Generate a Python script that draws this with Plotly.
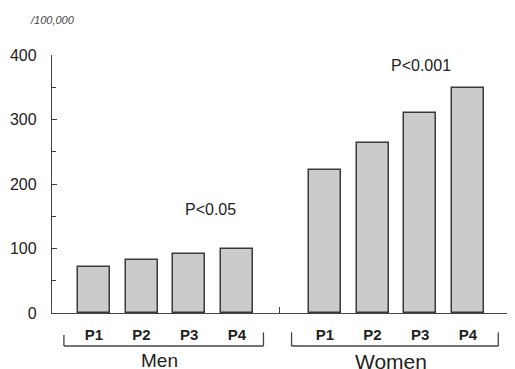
import plotly.graph_objects as go

# ---- data ----
periods = ["P1", "P2", "P3", "P4"]
groups = ["Men", "Women"]
men_values = [71, 82, 91, 99]
women_values = [222, 264, 310, 349]
p_labels = ["P<0.05", "P<0.001"]
p_label_y = [160, 383]
y_ticks = [0, 100, 200, 300, 400]
unit_label = "/100,000"

GAP = 1.85  # distance between last bar of Men and first bar of Women
men_x = [i for i in range(len(periods))]
women_x = [men_x[-1] + GAP + i for i in range(len(periods))]

FONT = "Liberation Sans, Arial, sans-serif"
TXT = "#222222"
BAR_FILL = "#cbcbcb"
BAR_LINE = "#3a3a3a"

fig = go.Figure()
for xs, vals in [(men_x, men_values), (women_x, women_values)]:
    fig.add_trace(go.Bar(
        x=xs, y=vals, width=0.67,
        marker=dict(color=BAR_FILL, line=dict(color=BAR_LINE, width=1.5)),
        showlegend=False, hoverinfo="skip",
    ))

x_min = men_x[0] - 0.88
x_max = women_x[-1] + 0.97

# the page body has an 8px margin; margins compensate for it
fig.update_layout(
    width=515, height=369,
    margin=dict(l=44, r=9, t=47, b=64),
    paper_bgcolor="#ffffff", plot_bgcolor="#ffffff",
    font=dict(family=FONT, color=TXT),
    bargap=0,
)
fig.update_yaxes(
    range=[0, 400], tickvals=y_ticks, showgrid=False, zeroline=False, automargin=False,
    showline=True, linecolor="#444", linewidth=1.3,
    ticks="inside", ticklen=5, tickcolor="#444", tickwidth=1.2,
    tickfont=dict(size=16, color=TXT), ticklabelstandoff=11,
    minor=dict(ticks="inside", dtick=50, ticklen=4, tickcolor="#444", tickwidth=1),
)
fig.update_xaxes(
    range=[x_min, x_max], showgrid=False, zeroline=False, automargin=False,
    showline=True, linecolor="#444", linewidth=1.3,
    tickvals=men_x + women_x, ticktext=periods + periods,
    ticks="", tickfont=dict(size=15, color=TXT, weight="bold"), ticklabelstandoff=8,
    minor=dict(ticks="inside", tickmode="array",
               tickvals=[(men_x[-1] + women_x[0]) / 2 - 0.03, x_max - 0.04],
               ticklen=6, tickcolor="#444", tickwidth=1),
)

# group brackets and labels
brackets = [(men_x[0] - 0.63, men_x[-1] + 0.56, -0.085),
            (women_x[0] - 0.70, women_x[-1] + 0.64, -0.075)]
y_br = -0.128
for (x0, x1, ytop), name, fs in zip(brackets, groups, [19, 21]):
    fig.add_shape(type="line", xref="x", yref="paper", x0=x0, x1=x1, y0=y_br, y1=y_br,
                  line=dict(color="#444", width=1.3))
    fig.add_shape(type="line", xref="x", yref="paper", x0=x0, x1=x0, y0=ytop, y1=y_br,
                  line=dict(color="#444", width=1.3))
    fig.add_shape(type="line", xref="x", yref="paper", x0=x1, x1=x1, y0=-0.075, y1=y_br,
                  line=dict(color="#444", width=1.3))
    fig.add_annotation(x=(x0 + x1) / 2 - 0.08, xref="x", y=y_br - 0.008, yref="paper",
                       text=name, showarrow=False, yanchor="top",
                       font=dict(size=fs, color=TXT))

# p-value labels
p_x = [(men_x[1] + men_x[2]) / 2 + 0.95, (women_x[1] + women_x[2]) / 2 + 0.52]
for x, y, t in zip(p_x, p_label_y, p_labels):
    fig.add_annotation(x=x, y=y, text=t, showarrow=False, font=dict(size=16, color=TXT))

fig.add_annotation(x=0.0, xref="paper", xanchor="center", y=1.165, yref="paper",
                   text="<i>" + unit_label + "</i>",
                   showarrow=False, font=dict(size=11, color="#444"))

fig.write_html("out.html")
